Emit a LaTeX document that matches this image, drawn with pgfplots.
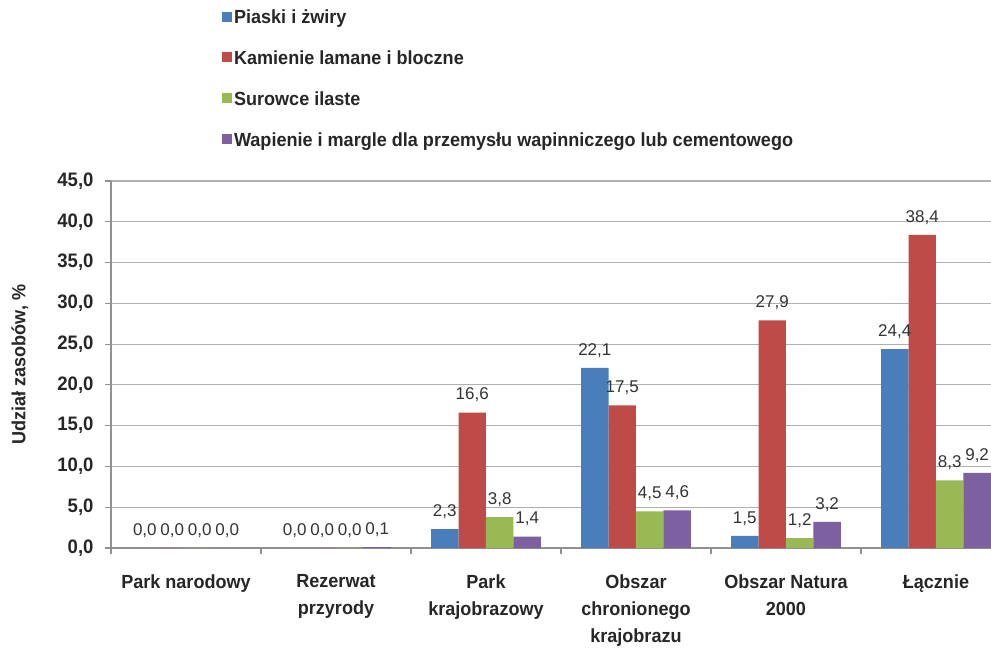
\documentclass[border=0pt]{standalone}
\usepackage{pgfplots}
\pgfplotsset{compat=1.18}
\usepackage{fontspec}
\setmainfont{Liberation Sans}
\newfontfamily\narrowfont[FakeStretch=0.95]{Liberation Sans}
\definecolor{cblue}{HTML}{4A7EBB}
\definecolor{cred}{HTML}{BE4B48}
\definecolor{cgreen}{HTML}{98B954}
\definecolor{cpurple}{HTML}{7D60A0}
\definecolor{gridc}{HTML}{B0B0B0}
\definecolor{axc}{HTML}{909090}
\begin{document}
\begin{tikzpicture}
\begin{axis}[
  scale only axis,
  width=880pt, height=367pt,
  xmin=-0.5, xmax=5.367,
  ymin=0, ymax=45,
  ybar=0pt, bar width=0.183,
  axis x line*=bottom, axis y line*=left,
  axis line style={axc, line width=1.2pt, -},
  ytick={0,5,...,45},
  ymajorgrids, grid style={gridc, line width=1.2pt},
  tick style={axc, line width=1.2pt},
  tick align=outside,
  major tick length=6pt,
  xtick={0,1,2,3,4,5},
  xtick style={draw=none},
  xticklabels={Park narodowy, Rezerwat\\przyrody, Park\\krajobrazowy, Obszar\\chronionego\\krajobrazu, Obszar Natura\\2000, Łącznie},
  xticklabel style={align=center, font=\narrowfont\fontsize{19}{27}\selectfont\bfseries, text=black!85, yshift=-17pt},
  extra x ticks={-0.5,0.5,1.5,2.5,3.5,4.5},
  extra x tick labels={},
  extra x tick style={grid=none, xtick style={draw=axc, line width=1.2pt}, major tick length=6pt},
  yticklabel style={font=\narrowfont\fontsize{19.5}{22}\selectfont\bfseries, text=black!85, xshift=-8pt, /pgf/number format/.cd, fixed, fixed zerofill, precision=1, use comma, assume math mode=true},
  ylabel={Udział zasobów, \%},
  ylabel style={at={(rel axis cs:0,0.5)}, anchor=center, yshift=91pt, font=\narrowfont\fontsize{19}{22}\selectfont\bfseries, text=black!85},
  nodes near coords,
  every node near coord/.append style={font=\fontsize{17}{20}\selectfont, text=black!80, yshift=7pt, /pgf/number format/.cd, fixed, fixed zerofill, precision=1, use comma, assume math mode=true},
  legend style={at={(0.126,1.472)}, anchor=north west, draw=none, fill=none, font=\narrowfont\fontsize{19}{22}\selectfont\bfseries, text=black!85, row sep=21.5pt, inner sep=0pt},
  legend cell align=left,
  legend image code/.code={\fill[#1] (0pt,-4pt) rectangle (10pt,6pt);},
  clip=true,
]
\coordinate (O) at (rel axis cs:0,0);
\addplot[fill=cblue, draw=none] coordinates {(0,0) (1,0) (2,2.3) (3,22.1) (4,1.5) (5,24.4)};
\addplot[fill=cred, draw=none] coordinates {(0,0) (1,0) (2,16.6) (3,17.5) (4,27.9) (5,38.4)};
\addplot[fill=cgreen, draw=none] coordinates {(0,0) (1,0) (2,3.8) (3,4.5) (4,1.2) (5,8.3)};
\addplot[fill=cpurple, draw=none] coordinates {(0,0) (1,0.1) (2,1.4) (3,4.6) (4,3.2) (5,9.2)};
\legend{Piaski i żwiry, Kamienie lamane i bloczne, Surowce ilaste, Wapienie i margle dla przemysłu wapinniczego lub cementowego}
\end{axis}
\pgfresetboundingbox
\path[use as bounding box] ([xshift=-111pt,yshift=-100pt]O) rectangle ([xshift=880pt,yshift=548pt]O);
\end{tikzpicture}
\end{document}
